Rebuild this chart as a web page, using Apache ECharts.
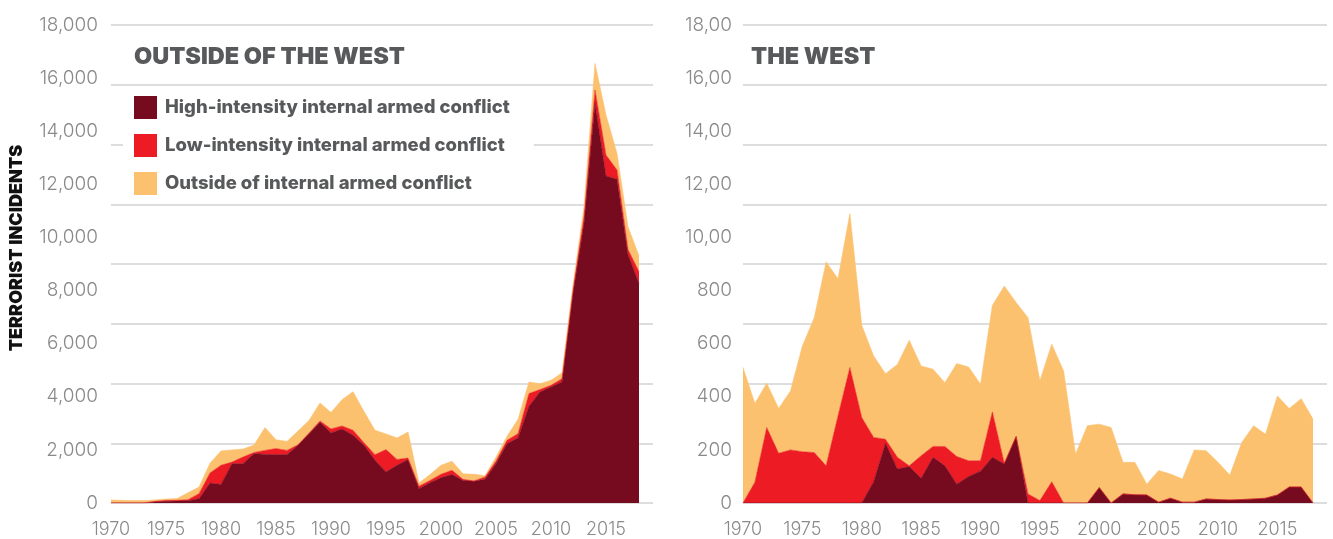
<!DOCTYPE html>
<html>
<head>
<meta charset="utf-8">
<script src="https://cdn.jsdelivr.net/npm/echarts@6/dist/echarts.min.js"></script>
<style>
  html, body { margin: 0; padding: 0; background: #ffffff; }
  #chart { width: 1333px; height: 539px; }
</style>
</head>
<body>
<div id="chart"></div>
<script>
// Years covered by both panels
const years = ['1970', '1971', '1972', '1973', '1974', '1975', '1976', '1977', '1978', '1979',
  '1980', '1981', '1982', '1983', '1984', '1985', '1986', '1987', '1988', '1989',
  '1990', '1991', '1992', '1993', '1994', '1995', '1996', '1997', '1998', '1999',
  '2000', '2001', '2002', '2003', '2004', '2005', '2006', '2007', '2008', '2009',
  '2010', '2011', '2012', '2013', '2014', '2015', '2016', '2017', '2018'];

const seriesNames = [
  'High-intensity internal armed conflict',
  'Low-intensity internal armed conflict',
  'Outside of internal armed conflict'
];

// Terrorist incidents outside of the West, by conflict context
const outsideHigh = [0, 0, 0, 0, 38, 63, 75, 88, 160, 750,
  700, 1480, 1480, 1860, 1830, 1820, 1820, 2170, 2610, 3040,
  2640, 2790, 2550, 2170, 1610, 1170, 1420, 1630, 540, 765,
  950, 1070, 850, 815, 890, 1480, 2230, 2450, 3640, 4180,
  4370, 4560, 7900, 10530, 15050, 12310, 12190, 9350, 8270];
const outsideLow = [0, 0, 0, 0, 25, 37, 25, 37, 190, 380,
  720, 60, 250, 40, 150, 230, 160, 20, 20, 50,
  150, 110, 190, 100, 210, 840, 220, 60, 90, 85,
  130, 160, 40, 15, 90, 100, 130, 160, 480, 90,
  60, 120, 150, 250, 500, 790, 350, 200, 440];
const outsideNone = [113, 100, 90, 90, 50, 50, 65, 260, 250, 370,
  540, 460, 300, 280, 860, 330, 340, 520, 480, 675,
  620, 990, 1450, 1180, 920, 590, 810, 980, 120, 220,
  340, 340, 210, 250, 50, 150, 150, 540, 440, 220,
  190, 220, 150, 380, 1000, 1510, 625, 850, 590];

// Terrorist incidents in the West, by conflict context
const westHigh = [0, 0, 0, 0, 0, 0, 0, 0, 0, 0,
  0, 80, 225, 128, 137, 93, 172, 140, 71, 100,
  120, 172, 147, 250, 0, 0, 0, 0, 0, 0,
  58, 0, 34, 31, 30, 3, 18, 3, 3, 15,
  13, 11, 13, 15, 18, 30, 60, 60, 0];
const westLow = [0, 78, 284, 187, 200, 193, 190, 140, 328, 510,
  322, 167, 15, 44, 3, 85, 41, 73, 104, 59,
  39, 171, 3, 0, 34, 9, 80, 0, 0, 0,
  0, 0, 0, 0, 0, 0, 0, 0, 0, 0,
  0, 0, 0, 0, 0, 0, 0, 0, 0];
const westNone = [510, 297, 167, 169, 222, 398, 508, 768, 516, 580,
  347, 307, 247, 350, 473, 338, 291, 240, 350, 353,
  288, 401, 667, 505, 664, 451, 518, 497, 184, 291,
  239, 284, 119, 122, 41, 119, 91, 87, 197, 182,
  140, 94, 215, 276, 241, 373, 296, 333, 316];

// Tick labels for the two value axes
const outsideYTicks = ['0', '2,000', '4,000', '6,000', '8,000', '10,000', '12,000', '14,000', '16,000', '18,000'];
const westYTicks = ['0', '200', '400', '600', '800', '10,00', '12,00', '14,00', '16,00', '18,00'];

const colors = ['#760b20', '#ed1c24', '#fcc16f'];
const labelGray = '#8a8a8a';
const titleGray = '#58595b';
const gridGray = '#d2d2d2';

function areaSeries(name, vals, panel, color) {
  return {
    type: 'line',
    name: name,
    data: vals,
    xAxisIndex: panel,
    yAxisIndex: panel,
    stack: 'panel' + panel,
    symbol: 'none',
    showSymbol: false,
    lineStyle: { width: 0.6, color: color },
    areaStyle: { color: color, opacity: 1 },
    itemStyle: { color: color },
    emphasis: { disabled: true },
    silent: true
  };
}

// Year axis of a data panel
function yearAxis(gridIndex) {
  return {
    type: 'category',
    gridIndex: gridIndex,
    data: years,
    boundaryGap: false,
    axisLine: { show: false },
    axisTick: { show: false },
    splitLine: { show: false },
    axisLabel: {
      interval: 4,
      color: labelGray,
      fontFamily: 'Inter',
      fontWeight: 300,
      fontSize: 18,
      margin: 18
    }
  };
}

// Hidden horizontal axis of a rule panel
function blankAxis(gridIndex) {
  return {
    type: 'value',
    gridIndex: gridIndex,
    min: 0,
    max: 1,
    show: false
  };
}

function valueAxis(gridIndex, max, step, ticks, margin) {
  return {
    type: 'value',
    gridIndex: gridIndex,
    min: 0,
    max: max,
    interval: step,
    position: 'left',
    axisLine: { show: false },
    axisTick: { show: false },
    splitLine: { show: false },
    axisLabel: {
      formatter: v => ticks[Math.round(v / step)],
      color: labelGray,
      fontFamily: 'Inter',
      fontWeight: 300,
      fontSize: 19,
      margin: margin
    }
  };
}

// Horizontal rules, eight equal bands per panel
function ruleAxis(gridIndex) {
  return {
    type: 'value',
    gridIndex: gridIndex,
    min: 0,
    max: 8,
    interval: 1,
    position: 'left',
    axisLine: { show: false },
    axisTick: { show: false },
    axisLabel: { show: false },
    splitLine: { show: true, lineStyle: { color: gridGray, width: 1.5 } }
  };
}

const chart = echarts.init(document.getElementById('chart'), null, { renderer: 'canvas' });

chart.setOption({
  animation: false,
  backgroundColor: '#ffffff',
  title: [
    {
      text: 'OUTSIDE OF THE WEST',
      left: 134, top: 45, padding: 0,
      textStyle: { fontFamily: 'Inter', fontWeight: 900, fontSize: 23.5, color: titleGray }
    },
    {
      text: 'THE WEST',
      left: 751, top: 45, padding: 0,
      textStyle: { fontFamily: 'Inter', fontWeight: 900, fontSize: 23.5, color: titleGray }
    }
  ],
  legend: {
    data: seriesNames.map(n => ({ name: n, icon: 'rect' })),
    orient: 'vertical',
    left: 123,
    top: 88,
    itemWidth: 23,
    itemHeight: 23,
    itemGap: 15,
    padding: [8, 24, 4, 11],
    backgroundColor: '#ffffff',
    selectedMode: false,
    textStyle: {
      fontFamily: 'Inter', fontWeight: 800, fontSize: 18.5, color: titleGray,
      padding: [0, 0, 0, 3]
    }
  },
  grid: [
    // data panels
    { left: 111, right: 694, top: 25, bottom: 36 },
    { left: 743, right: 20, top: 25, bottom: 36 },
    // rule panels
    { left: 111, right: 680, top: 25, bottom: 36 },
    { left: 743, right: 6, top: 25, bottom: 36 }
  ],
  xAxis: [yearAxis(0), yearAxis(1), blankAxis(2), blankAxis(3)],
  yAxis: [
    valueAxis(0, 18000, 2000, outsideYTicks, 13),
    valueAxis(1, 1800, 200, westYTicks, 11),
    ruleAxis(2),
    ruleAxis(3)
  ],
  graphic: [
    {
      type: 'text',
      x: 17, y: 248,
      rotation: Math.PI / 2,
      style: {
        text: 'TERRORIST INCIDENTS',
        fill: '#111111',
        font: '900 18px Inter',
        align: 'center',
        verticalAlign: 'middle'
      }
    }
  ],
  series: [
    areaSeries(seriesNames[0], outsideHigh, 0, colors[0]),
    areaSeries(seriesNames[1], outsideLow, 0, colors[1]),
    areaSeries(seriesNames[2], outsideNone, 0, colors[2]),
    areaSeries(seriesNames[0], westHigh, 1, colors[0]),
    areaSeries(seriesNames[1], westLow, 1, colors[1]),
    areaSeries(seriesNames[2], westNone, 1, colors[2])
  ]
});
</script>
</body>
</html>
